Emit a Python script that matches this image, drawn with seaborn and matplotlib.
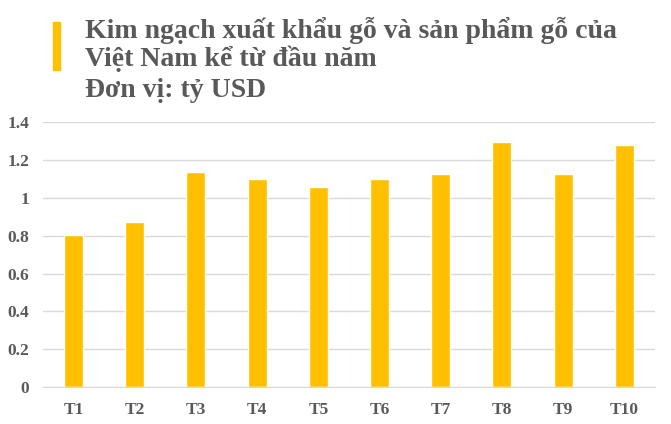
import pandas as pd
import matplotlib.pyplot as plt
import seaborn as sns
from matplotlib.patches import Rectangle

months = ["T1", "T2", "T3", "T4", "T5", "T6", "T7", "T8", "T9", "T10"]
values = [0.805, 0.873, 1.134, 1.098, 1.055, 1.098, 1.128, 1.293, 1.128, 1.281]
yticks = [0, 0.2, 0.4, 0.6, 0.8, 1, 1.2, 1.4]
ytick_labels = ["0", "0.2", "0.4", "0.6", "0.8", "1", "1.2", "1.4"]

title_lines = [
    "Kim ngạch xuất khẩu gỗ và sản phẩm gỗ của",
    "Việt Nam kể từ đầu năm",
    "Đơn vị: tỷ USD",
]

df = pd.DataFrame({"month": months, "value": values})

sns.set_style("white")
plt.rcParams["font.family"] = ["Liberation Serif", "DejaVu Serif"]

text_color = "#595959"
bar_color = "#FFC000"

fig = plt.figure(figsize=(6.71, 4.24), dpi=100)
ax = fig.add_axes([0.064, 0.087, 0.912, 0.625])

sns.barplot(data=df, x="month", y="value", color=bar_color, width=0.31,
            saturation=1, ax=ax)

ax.set_ylim(0, 1.4)
ax.set_xlim(-0.5, len(months) - 0.5)
ax.set_yticks(yticks)
ax.set_yticklabels(ytick_labels)
ax.yaxis.grid(True, color="#D9D9D9", linewidth=1)
ax.set_axisbelow(True)
for s in ["top", "right", "left"]:
    ax.spines[s].set_visible(False)
ax.spines["bottom"].set_color("#D9D9D9")
ax.tick_params(axis="both", length=0, labelsize=12.5, labelcolor=text_color)
ax.tick_params(axis="y", pad=10)
ax.tick_params(axis="x", pad=11)
for lbl in ax.get_xticklabels() + ax.get_yticklabels():
    lbl.set_fontweight("bold")
ax.set_xlabel("")
ax.set_ylabel("")

# title block with yellow marker
fig.patches.append(Rectangle((53 / 671, 1 - 70 / 424), 7 / 671, 48 / 424,
                             transform=fig.transFigure, color=bar_color))
y_pos = [38, 66, 97]
for line, yp in zip(title_lines, y_pos):
    fig.text(85 / 671, 1 - yp / 424, line, fontsize=20, fontweight="bold",
             color=text_color, ha="left", va="baseline")

fig.savefig("out.png", dpi=100)
